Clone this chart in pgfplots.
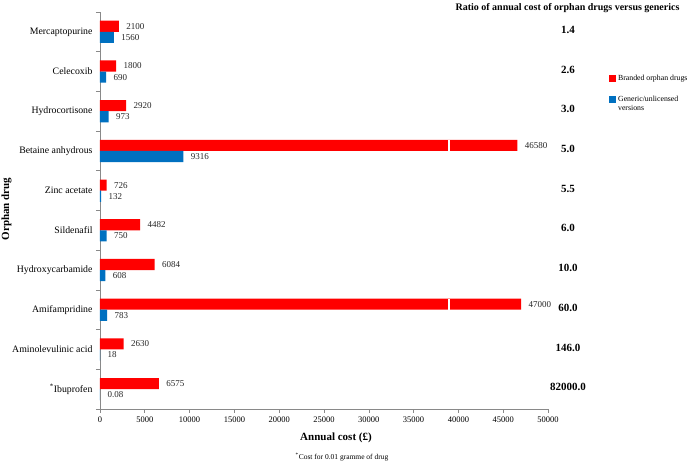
\documentclass[border=0pt]{standalone}
\usepackage{fontspec}
\setmainfont{Liberation Serif}
\usepackage{pgfplots}
\pgfplotsset{compat=1.18}
\usepackage{pgfplotstable}
\usetikzlibrary{calc}
\definecolor{bred}{RGB}{255,0,0}
\definecolor{gblue}{RGB}{0,112,192}
\definecolor{axgray}{RGB}{137,137,137}

\pgfplotstableread{
y x lab
9 2100 2100
8 1800 1800
7 2920 2920
6 46580 46580
5 726 726
4 4482 4482
3 6084 6084
2 47000 47000
1 2630 2630
0 6575 6575
}\branded

\pgfplotstableread{
y x lab
9 1560 1560
8 690 690
7 973 973
6 9316 9316
5 132 132
4 750 750
3 608 608
2 783 783
1 18 18
0 0.08 0.08
}\generic

\pgfplotstableread{
y x lab
9 52230 1.4
8 52230 2.6
7 52230 3.0
6 52230 5.0
5 52230 5.5
4 52230 6.0
3 52230 10.0
2 52230 60.0
1 52230 146.0
0 52230 82000.0
}\ratios

\begin{document}
\begin{tikzpicture}
\begin{axis}[
  name=ax, scale only axis, width=448bp, height=397bp,
  xmin=0, xmax=50000, ymin=-0.5, ymax=9.5,
  clip=false,
  axis lines*=left,
  axis line style={draw=axgray, line width=0.6bp},
  tick align=outside,
  major tick length=4bp, minor tick length=4bp,
  tick style={draw=axgray, line width=0.6bp},
  xtick={0,5000,...,50000},
  scaled x ticks=false,
  /pgf/number format/assume math mode=true,
  xticklabel style={font=\fontsize{8.5bp}{10bp}\selectfont, /pgf/number format/1000 sep={}},
  ytick={0,...,9},
  yticklabels={\textsuperscript{*}Ibuprofen, Aminolevulinic acid, Amifampridine, Hydroxycarbamide, Sildenafil, Zinc acetate, Betaine anhydrous, Hydrocortisone, Celecoxib, Mercaptopurine},
  yticklabel style={font=\fontsize{9.8bp}{11bp}\selectfont},
  major y tick style={draw=none},
  minor ytick={-0.5,0.5,...,9.5},
  bar width=0.28,
  legend style={at={(1.136,0.846)}, anchor=north west, draw=none, fill=none,
    inner sep=0pt, font=\fontsize{7.8bp}{9bp}\selectfont,
    cells={anchor=base west}, row sep=8.8bp, column sep=0bp},
]
\addplot[xbar, bar shift=0.14, fill=bred, draw=none,
  nodes near coords, point meta=explicit symbolic,
  every node near coord/.append style={anchor=west, font=\fontsize{9bp}{10bp}\selectfont, text=black!85, xshift=4bp, yshift=5.56bp},
  legend image code/.code={\fill[bred] (0bp,-1.5bp) rectangle (7bp,5.5bp);}]
  table[x=x, y=y, meta=lab] {\branded};
\addlegendentry{Branded orphan drugs}
\addplot[xbar, bar shift=-0.14, fill=gblue, draw=none,
  nodes near coords, point meta=explicit symbolic,
  every node near coord/.append style={anchor=west, font=\fontsize{9bp}{10bp}\selectfont, text=black!85, xshift=4bp, yshift=-5.56bp},
  legend image code/.code={\fill[gblue] (0bp,-1.5bp) rectangle (7bp,5.5bp);}]
  table[x=x, y=y, meta=lab] {\generic};
\addlegendentry{\begin{tabular}[t]{@{}l@{}}Generic/unlicensed\\versions\end{tabular}}
\addplot[draw=white, line width=1.2bp, forget plot] coordinates {(38950,6.0) (38950,6.28)};
\addplot[draw=white, line width=1.2bp, forget plot] coordinates {(38950,2.0) (38950,2.28)};
\addplot[only marks, mark=*, mark size=0pt, mark options={draw=none, fill=none}, forget plot,
  nodes near coords, point meta=explicit symbolic,
  every node near coord/.append style={anchor=center, font=\bfseries\fontsize{11bp}{12bp}\selectfont, text=black, yshift=2bp}]
  table[x=x, y=y, meta=lab] {\ratios};
\end{axis}
\node[rotate=90, font=\bfseries\fontsize{11bp}{12bp}\selectfont] at ($(ax.west)+(-93.5bp,1.5bp)$) {Orphan drug};
\node[font=\bfseries\fontsize{11bp}{12bp}\selectfont] at ($(ax.south)+(12bp,-29bp)$) {Annual cost (£)};
\node[font=\fontsize{7.5bp}{9bp}\selectfont] at ($(ax.south)+(18bp,-48bp)$) {\textsuperscript{*}Cost for 0.01 gramme of drug};
\node[anchor=east, font=\bfseries\fontsize{10bp}{11bp}\selectfont] at ($(ax.north east)+(135bp,4bp)$) {Ratio of annual cost of orphan drugs versus generics};
\pgfresetboundingbox
\path[use as bounding box] ($(ax.south west)+(-100bp,-56bp)$) rectangle ($(ax.north east)+(141bp,12bp)$);
\end{tikzpicture}
\end{document}
